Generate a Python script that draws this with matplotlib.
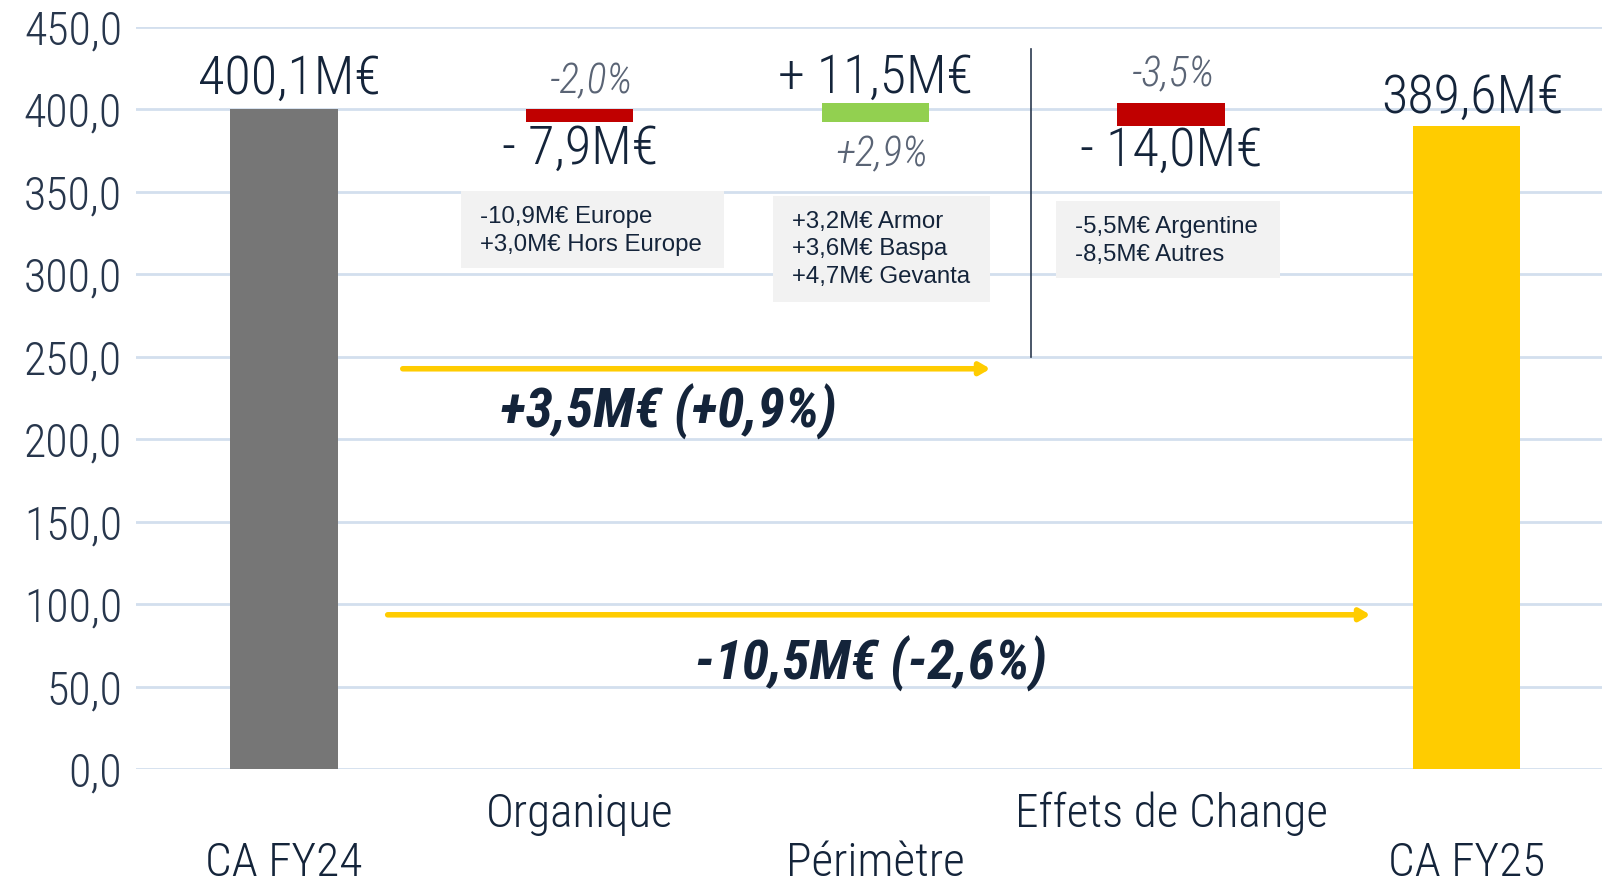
import matplotlib
matplotlib.use("Agg")
import matplotlib.pyplot as plt
from matplotlib import font_manager
from matplotlib.patches import Rectangle
from matplotlib.transforms import blended_transform_factory

# data
categories = ["CA FY24", "Organique", "Périmètre", "Effets de Change", "CA FY25"]
values = [400.1, -7.9, 11.5, -14.0, 389.6]
is_total = [True, False, False, False, True]
value_labels = ["400,1M€", "- 7,9M€", "+ 11,5M€", "- 14,0M€", "389,6M€"]
pct_labels = [None, "-2,0%", "+2,9%", "-3,5%", None]
bar_colors = ["#767676", "#c00000", "#92d050", "#c00000", "#ffcc00"]
details = [
    "-10,9M€ Europe\n+3,0M€ Hors Europe",
    "+3,2M€ Armor\n+3,6M€ Baspa\n+4,7M€ Gevanta",
    "-5,5M€ Argentine\n-8,5M€ Autres",
]
bridge_labels = ["+3,5M€ (+0,9%)", "-10,5M€ (-2,6%)"]
yticks = [0, 50, 100, 150, 200, 250, 300, 350, 400, 450]

# fonts
avail = {f.name for f in font_manager.fontManager.ttflist}
main_font = "Open Sans"
for cand in ["Roboto Condensed", "Open Sans Condensed", "Liberation Sans Narrow"]:
    if cand in avail:
        main_font = cand
        break
box_font = "Liberation Sans"
NAVY = "#14243a"
GREY_TXT = "#5a6475"

fig = plt.figure(figsize=(16.02, 8.84), dpi=100)
ax = fig.add_axes([0.0849, 0.130, 0.923, 0.840])

# waterfall geometry
bottoms, heights = [], []
running = 0.0
for v, tot in zip(values, is_total):
    if tot:
        bottoms.append(0.0)
        heights.append(v)
        running = v
    else:
        bottoms.append(running + min(v, 0))
        heights.append(abs(v))
        running += v

x = list(range(len(categories)))
ax.bar(x, heights, bottom=bottoms, width=0.363, color=bar_colors, zorder=3)

ax.set_xlim(-0.5, 4.5)
ax.set_ylim(0, 450)
ax.set_yticks(yticks)
ax.set_yticklabels([f"{t:.1f}".replace(".", ",") for t in yticks],
                   fontsize=33, color="#27364c", family=main_font, fontweight="light")
ax.set_xticks([])
ax.tick_params(axis="y", length=0, pad=10)
ax.grid(axis="y", color="#d3dfee", lw=2, zorder=0)
for s in ax.spines.values():
    s.set_visible(False)

# category labels (staggered)
tr = blended_transform_factory(ax.transData, ax.transAxes)
for i, c in enumerate(categories):
    yy = -0.0605 if i % 2 else -0.1265
    ax.text(i, yy, c, transform=tr, ha="center", va="center", fontsize=34,
            color=NAVY, family=main_font, fontweight="light", clip_on=False)

# value labels
val_pos = [(0.02, 418), (1.0, 376), (2.0, 419), (3.0, 374.5), (4.02, 406.5)]
for (px, py), lab in zip(val_pos, value_labels):
    ax.text(px, py, lab, ha="center", va="center", fontsize=39, color=NAVY,
            family=main_font, fontweight="light")
pct_pos = [None, (1.04, 416.5), (2.02, 372.5), (3.01, 421)]
for pos, lab in zip(pct_pos, pct_labels):
    if lab:
        ax.text(pos[0], pos[1], lab, ha="center", va="center", fontsize=30,
                color=GREY_TXT, style="italic", family=main_font, fontweight="light")

# detail boxes
boxes = [(0.599, 303.9, 0.888, 46.5, 0.663, 326.2),
         (1.653, 282.9, 0.736, 64.4, 1.718, 315.1),
         (2.610, 297.7, 0.760, 46.5, 2.675, 320.0)]
for (bx, by, bw, bh, tx, ty), txt in zip(boxes, details):
    ax.add_patch(Rectangle((bx, by), bw, bh, facecolor="#f2f2f2", edgecolor="none", zorder=4))
    ax.text(tx, ty, txt, ha="left", va="center", fontsize=17.3, color=NAVY,
            family=box_font, linespacing=1.32, zorder=5)

# separator line
ax.plot([2.527, 2.527], [250, 436.4], color="#2b3a4f", lw=1.2, zorder=5)

# bridge arrows
arrows = [((0.402, 242.6), (2.389, 242.6)), ((0.351, 93.5), (3.674, 93.5))]
for (s, e) in arrows:
    ax.annotate("", xy=e, xytext=s,
                arrowprops=dict(arrowstyle="-|>,head_length=0.6,head_width=0.35",
                                color="#ffcc00", lw=4, shrinkA=0, shrinkB=0), zorder=6)
ax.text(1.301, 216.6, bridge_labels[0], ha="center", va="center", fontsize=40,
        color=NAVY, style="italic", fontweight="bold", family=main_font)
ax.text(1.984, 63.8, bridge_labels[1], ha="center", va="center", fontsize=40,
        color=NAVY, style="italic", fontweight="bold", family=main_font)

fig.savefig("out.png", dpi=100)
